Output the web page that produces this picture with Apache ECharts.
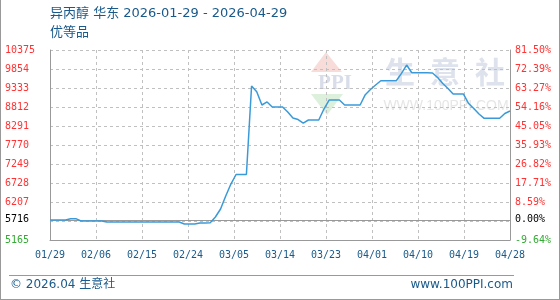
<!DOCTYPE html>
<html><head><meta charset="utf-8">
<script src="https://cdn.jsdelivr.net/npm/echarts@6/dist/echarts.min.js"></script>
<style>html,body{margin:0;padding:0;background:#fff}#c{width:560px;height:300px}</style>
</head><body><div id="c"></div>
<script>
const titleText = '异丙醇 华东 2026-01-29 - 2026-04-29';
const subtitleText = '优等品';
const footerLeft = '© 2026.04 生意社';
const footerRight = 'www.100PPI.com';
const startDate = [2026, 0, 29];
// daily prices from 01/29 (day 0) to 04/28 (day 89)
const prices = [
  5716, 5716, 5716, 5716, 5750, 5750, 5686, 5686, 5686, 5686,
  5686, 5658, 5658, 5658, 5658, 5658, 5658, 5658, 5658, 5658,
  5658, 5658, 5658, 5658, 5658, 5658, 5604, 5604, 5604, 5631,
  5631, 5640, 5796, 6015, 6371, 6700, 6961, 6961, 6961, 9388,
  9231, 8867, 8950, 8812, 8812, 8812, 8675, 8510, 8469, 8372,
  8455, 8455, 8455, 8757, 9003, 9003, 9003, 8867, 8867, 8867,
  8867, 9150, 9292, 9415, 9533, 9533, 9533, 9533, 9735, 9963,
  9752, 9752, 9752, 9752, 9744, 9620, 9457, 9320, 9168, 9168,
  9168, 8907, 8770, 8620, 8502, 8502, 8502, 8502, 8633, 8702
];
const baseValue = 5716;
const baseLabelLeft = '5716';
const baseLabelRight = '0.00%';
const yMin = 5165, yMax = 10375, yStep = 521;
const hiddenTick = 5686;
const leftTickLabels = [5165, 5686, 6207, 6728, 7249, 7770, 8291, 8812, 9333, 9854, 10375];
const rightTickLabels = ['-9.64%', '', '8.59%', '17.71%', '26.82%', '35.93%', '45.05%', '54.16%', '63.27%', '72.39%', '81.50%'];
const xMax = 89, xStep = 8.9;

const RED = '#ff3333', GREEN = '#33aa33', BLACK = '#000000', BLUE = '#1a5a8a';
function dateLabel(v) {
  const d = new Date(Date.UTC(startDate[0], startDate[1], startDate[2] + Math.floor(v + 1e-6)));
  const mm = String(d.getUTCMonth() + 1).padStart(2, '0');
  const dd = String(d.getUTCDate()).padStart(2, '0');
  return mm + '/' + dd;
}
function labelColor(v) {
  v = Number(v);
  if (v < baseValue) return GREEN;
  if (v === baseValue) return BLACK;
  return RED;
}
function tickIndex(v) {
  let best = 0, bd = Infinity;
  leftTickLabels.forEach((t, i) => { const d = Math.abs(t - Number(v)); if (d < bd) { bd = d; best = i; } });
  return best;
}
const mono = '"DejaVu Sans Mono", "Liberation Mono", monospace';
const sans = '"DejaVu Sans", "Noto Sans CJK SC", sans-serif';

const chart = echarts.init(document.getElementById('c'), null, {renderer: 'canvas'});
chart.setOption({
  backgroundColor: '#fff',
  animation: false,
  grid: {left: 50, right: 50, top: 50, bottom: 60},
  xAxis: {
    type: 'value', min: 0, max: xMax, interval: xStep,
    axisLine: {show: true, onZero: false, lineStyle: {color: '#999', width: 1}},
    axisTick: {show: false},
    splitLine: {show: true, lineStyle: {color: '#c0c0c0', type: [3, 3], width: 1}},
    axisLabel: {formatter: dateLabel, color: BLUE, fontFamily: mono, fontSize: 10, margin: 10}
  },
  yAxis: [
    {
      type: 'value', min: yMin, max: yMax, interval: yStep, position: 'left',
      axisLine: {show: true, lineStyle: {color: '#999', width: 1}},
      axisTick: {show: false},
      splitLine: {show: true, lineStyle: {color: '#c0c0c0', type: [3, 3], width: 1}},
      axisLabel: {
        formatter: v => { const i = tickIndex(v); return leftTickLabels[i] === hiddenTick ? '' : String(leftTickLabels[i]); },
        color: labelColor, align: 'left', margin: 45,
        fontFamily: mono, fontSize: 10
      }
    },
    {
      type: 'value', min: yMin, max: yMax, interval: yStep, position: 'right',
      axisLine: {show: true, lineStyle: {color: '#999', width: 1}},
      axisTick: {show: false},
      splitLine: {show: false},
      axisLabel: {
        formatter: v => rightTickLabels[tickIndex(v)],
        color: labelColor, align: 'left', margin: 5,
        fontFamily: mono, fontSize: 10
      }
    }
  ],
  series: [{
    type: 'line',
    data: prices.map((v, i) => [i, v]),
    showSymbol: false, symbol: 'none',
    lineStyle: {color: '#3a9ad9', width: 1.5},
    z: 5,
    markLine: {
      silent: true, symbol: 'none', animation: false,
      lineStyle: {color: '#999', type: 'solid', width: 1},
      label: {show: true, fontFamily: mono, fontSize: 10, color: BLACK},
      data: [
        {yAxis: baseValue, label: {position: 'start', formatter: baseLabelLeft, distance: 21}},
        {yAxis: baseValue, label: {position: 'end', formatter: baseLabelRight, distance: 5}}
      ]
    }
  }],
  graphic: [
    // watermark
    {type: 'polygon', z: -10, shape: {points: [[326, 52], [311, 72], [342, 72]]}, style: {fill: '#f8dcda'}},
    {type: 'text', z: -10, x: 335, y: 84, style: {text: 'PPI', textAlign: 'center', textVerticalAlign: 'middle', font: 'bold 21px "Liberation Serif"', fill: '#d8dde9'}},
    {type: 'polygon', z: -10, shape: {points: [[311, 94], [343, 94], [327, 115]]}, style: {fill: '#dcf0dc'}},
    {type: 'text', z: -10, x: 400, y: 72, style: {text: '生', textAlign: 'center', textVerticalAlign: 'middle', font: 'bold 30px "Noto Sans CJK SC"', fill: '#dde2ec'}},
    {type: 'text', z: -10, x: 445, y: 72, style: {text: '意', textAlign: 'center', textVerticalAlign: 'middle', font: 'bold 30px "Noto Sans CJK SC"', fill: '#dde2ec'}},
    {type: 'text', z: -10, x: 490, y: 72, style: {text: '社', textAlign: 'center', textVerticalAlign: 'middle', font: 'bold 30px "Noto Sans CJK SC"', fill: '#dde2ec'}},
    {type: 'text', z: -10, x: 446, y: 106, style: {text: 'WWW.100PPI.COM', textAlign: 'center', textVerticalAlign: 'middle', font: '14px "Liberation Sans"', fill: '#e6e6e6'}},
    // titles
    {type: 'text', x: 50, y: 14, style: {text: titleText, textVerticalAlign: 'middle', font: '13px ' + sans, fill: BLUE}},
    {type: 'text', x: 50, y: 33, style: {text: subtitleText, textVerticalAlign: 'middle', font: '13px ' + sans, fill: BLUE}},
    // footer
    {type: 'line', shape: {x1: 9, y1: 275.5, x2: 514, y2: 275.5}, style: {stroke: '#999', lineWidth: 1}},
    {type: 'text', x: 10, y: 285, style: {text: footerLeft, textVerticalAlign: 'middle', font: '12px ' + sans, fill: BLUE}},
    {type: 'text', x: 513, y: 285, style: {text: footerRight, textAlign: 'right', textVerticalAlign: 'middle', font: '12px ' + sans, fill: BLUE}},
    // outer border
    {type: 'line', shape: {x1: 0.5, y1: 0, x2: 0.5, y2: 300}, style: {stroke: '#999', lineWidth: 1}},
    {type: 'line', shape: {x1: 559.5, y1: 0, x2: 559.5, y2: 300}, style: {stroke: '#999', lineWidth: 1}},
    {type: 'line', shape: {x1: 0, y1: 299.5, x2: 560, y2: 299.5}, style: {stroke: '#999', lineWidth: 1}}
  ]
});
</script>
</body></html>
